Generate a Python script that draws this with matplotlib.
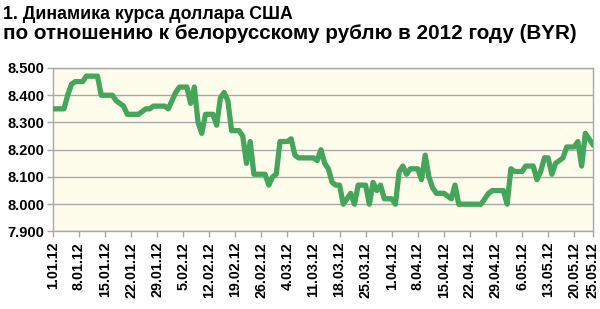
import matplotlib
matplotlib.use('Agg')
import matplotlib.pyplot as plt
import numpy as np

plt.rcParams['font.family'] = ['Liberation Sans', 'DejaVu Sans']

# daily BYR per USD (thousands), 1.01.12 .. 25.05.12
rates = [
    8.35, 8.35, 8.35, 8.35, 8.40, 8.44, 8.45, 8.45, 8.45, 8.47,
    8.47, 8.47, 8.47, 8.40, 8.40, 8.40, 8.40, 8.38, 8.37, 8.36,
    8.33, 8.33, 8.33, 8.33, 8.34, 8.35, 8.35, 8.36, 8.36, 8.36,
    8.36, 8.35, 8.38, 8.41, 8.43, 8.43, 8.43, 8.37, 8.43, 8.30,
    8.26, 8.33, 8.33, 8.33, 8.29, 8.39, 8.41, 8.38, 8.27, 8.27,
    8.27, 8.25, 8.15, 8.23, 8.11, 8.11, 8.11, 8.11, 8.07, 8.10,
    8.11, 8.23, 8.23, 8.23, 8.24, 8.18, 8.17, 8.17, 8.17, 8.17,
    8.17, 8.16, 8.20, 8.15, 8.13, 8.08, 8.07, 8.07, 8.00, 8.02,
    8.04, 8.00, 8.07, 8.07, 8.07, 8.00, 8.08, 8.05, 8.07, 8.02,
    8.02, 8.02, 8.00, 8.12, 8.14, 8.11, 8.13, 8.13, 8.13, 8.09,
    8.18, 8.10, 8.06, 8.04, 8.04, 8.04, 8.03, 8.02, 8.07, 8.00,
    8.00, 8.00, 8.00, 8.00, 8.00, 8.00, 8.02, 8.04, 8.05, 8.05,
    8.05, 8.05, 8.00, 8.13, 8.12, 8.12, 8.12, 8.14, 8.14, 8.14,
    8.09, 8.12, 8.17, 8.17, 8.11, 8.15, 8.16, 8.17, 8.21, 8.21,
    8.21, 8.23, 8.14, 8.26, 8.24, 8.22,
]
tick_days = [0, 7, 14, 21, 28, 35, 42, 49, 56, 63, 70, 77, 84, 91, 98,
             105, 112, 119, 126, 133, 140, 145]
tick_labels = ['1.01.12', '8.01.12', '15.01.12', '22.01.12', '29.01.12',
               '5.02.12', '12.02.12', '19.02.12', '26.02.12', '4.03.12',
               '11.03.12', '18.03.12', '25.03.12', '1.04.12', '8.04.12',
               '15.04.12', '22.04.12', '29.04.12', '6.05.12', '13.05.12',
               '20.05.12', '25.05.12']
y_ticks = [7.9, 8.0, 8.1, 8.2, 8.3, 8.4, 8.5]

fig = plt.figure(figsize=(6, 3.09), dpi=100)
ax = fig.add_axes([0.088, 0.251, 0.9, 0.529])
ax.set_facecolor('#fefdec')

days = np.arange(len(rates))
ax.plot(days, rates, color='#45a55a', linewidth=3.8, solid_joinstyle='round', zorder=3)

ax.set_xlim(0, 145)
ax.set_ylim(7.9, 8.5)
ax.set_yticks(y_ticks)
ax.set_yticklabels(['%.3f' % v for v in y_ticks], fontsize=10.5, fontweight='bold')
ax.set_xticks(tick_days)
ax.set_xticklabels(tick_labels, rotation=90, fontsize=10.3, fontweight='bold')
ax.grid(axis='y', color='#a8a8a8', linewidth=1)
ax.set_axisbelow(True)
for s in ax.spines.values():
    s.set_color('#a8a8a8')
    s.set_linewidth(1)
ax.tick_params(colors='#a8a8a8', labelcolor='black', length=4, width=1)
ax.tick_params(axis='y', pad=2)

fig.text(0.005, 1 - 19 / 309, '1. Динамика курса доллара США',
         ha='left', va='baseline', fontsize=12.8, fontweight='bold')
fig.text(0.005, 1 - 39 / 309, 'по отношению к белорусскому рублю в 2012 году (BYR)',
         ha='left', va='baseline', fontsize=14.9, fontweight='bold')

fig.savefig('out.png', dpi=100)
